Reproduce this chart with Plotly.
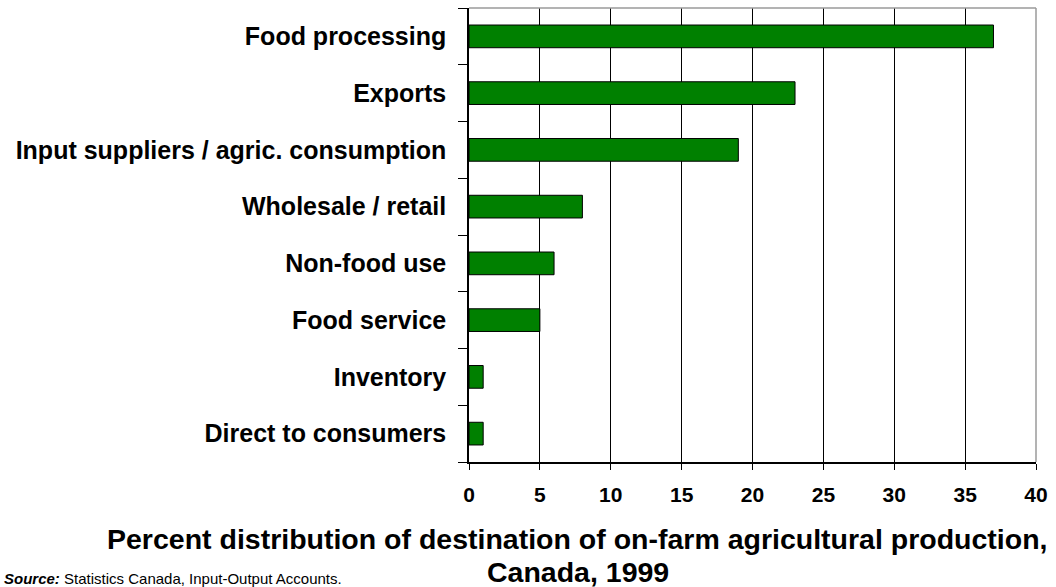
import plotly.graph_objects as go

# Destination categories, top to bottom
categories = [
    "Food processing",
    "Exports",
    "Input suppliers / agric. consumption",
    "Wholesale / retail",
    "Non-food use",
    "Food service",
    "Inventory",
    "Direct to consumers",
]
# Share of on-farm agricultural production (%)
percent = [37, 23, 19, 8, 6, 5, 1, 1]

x_ticks = [0, 5, 10, 15, 20, 25, 30, 35, 40]

W, H = 1056, 587
L, R, T, B = 469, 18, 8, 125
pw, ph = W - L - R, H - T - B


def px_x(px):
    return (px - L) / pw


def px_y(py):
    return (H - B - py) / ph


fig = go.Figure(
    go.Bar(
        x=percent,
        y=categories,
        orientation="h",
        width=0.4,
        marker=dict(color="#008000", line=dict(color="black", width=1)),
        hoverinfo="x+y",
    )
)

font_family = "Arial, Liberation Sans, Helvetica, sans-serif"

fig.update_layout(
    width=W,
    height=H,
    margin=dict(l=L, r=R, t=T, b=B),
    paper_bgcolor="white",
    plot_bgcolor="white",
    showlegend=False,
    font=dict(family=font_family, color="black"),
    xaxis=dict(
        range=[0, 40],
        tickvals=x_ticks,
        ticktext=[str(v) for v in x_ticks],
        showgrid=True,
        gridcolor="black",
        gridwidth=1,
        showline=True,
        linecolor="black",
        linewidth=1.5,
        ticks="outside",
        ticklen=6,
        tickcolor="black",
        ticklabelstandoff=7,
        tickfont=dict(size=21, family=font_family, color="black", weight="bold"),
        zeroline=False,
        fixedrange=True,
    ),
    yaxis=dict(
        categoryorder="array",
        categoryarray=categories[::-1],
        tickson="boundaries",
        ticks="outside",
        ticklen=9,
        tickcolor="black",
        showgrid=False,
        showline=True,
        linecolor="black",
        linewidth=1.5,
        ticklabelstandoff=16,
        tickfont=dict(size=25, family=font_family, color="black", weight="bold"),
        fixedrange=True,
    ),
    shapes=[
        # light frame along the top and right edges of the plot
        dict(type="line", xref="paper", yref="paper", x0=0, x1=1, y0=1, y1=1,
             line=dict(color="#9a9a9a", width=1.5)),
        dict(type="line", xref="paper", yref="paper", x0=1, x1=1, y0=0, y1=1,
             line=dict(color="#9a9a9a", width=1.5)),
    ],
    annotations=[
        dict(
            text="Percent distribution of destination of on-farm agricultural production,",
            xref="paper", yref="paper", x=px_x(578), y=px_y(539),
            xanchor="center", yanchor="middle", showarrow=False,
            font=dict(size=28.5, family=font_family, color="black", weight="bold"),
        ),
        dict(
            text="Canada, 1999",
            xref="paper", yref="paper", x=px_x(578), y=px_y(572),
            xanchor="center", yanchor="middle", showarrow=False,
            font=dict(size=28.5, family=font_family, color="black", weight="bold"),
        ),
        dict(
            text="<b><i>Source:</i></b> Statistics Canada, Input-Output Accounts.",
            xref="paper", yref="paper", x=px_x(0), y=px_y(578),
            xanchor="left", yanchor="middle", showarrow=False,
            font=dict(size=15, family=font_family, color="black"),
        ),
    ],
)

fig.write_html("out.html")
